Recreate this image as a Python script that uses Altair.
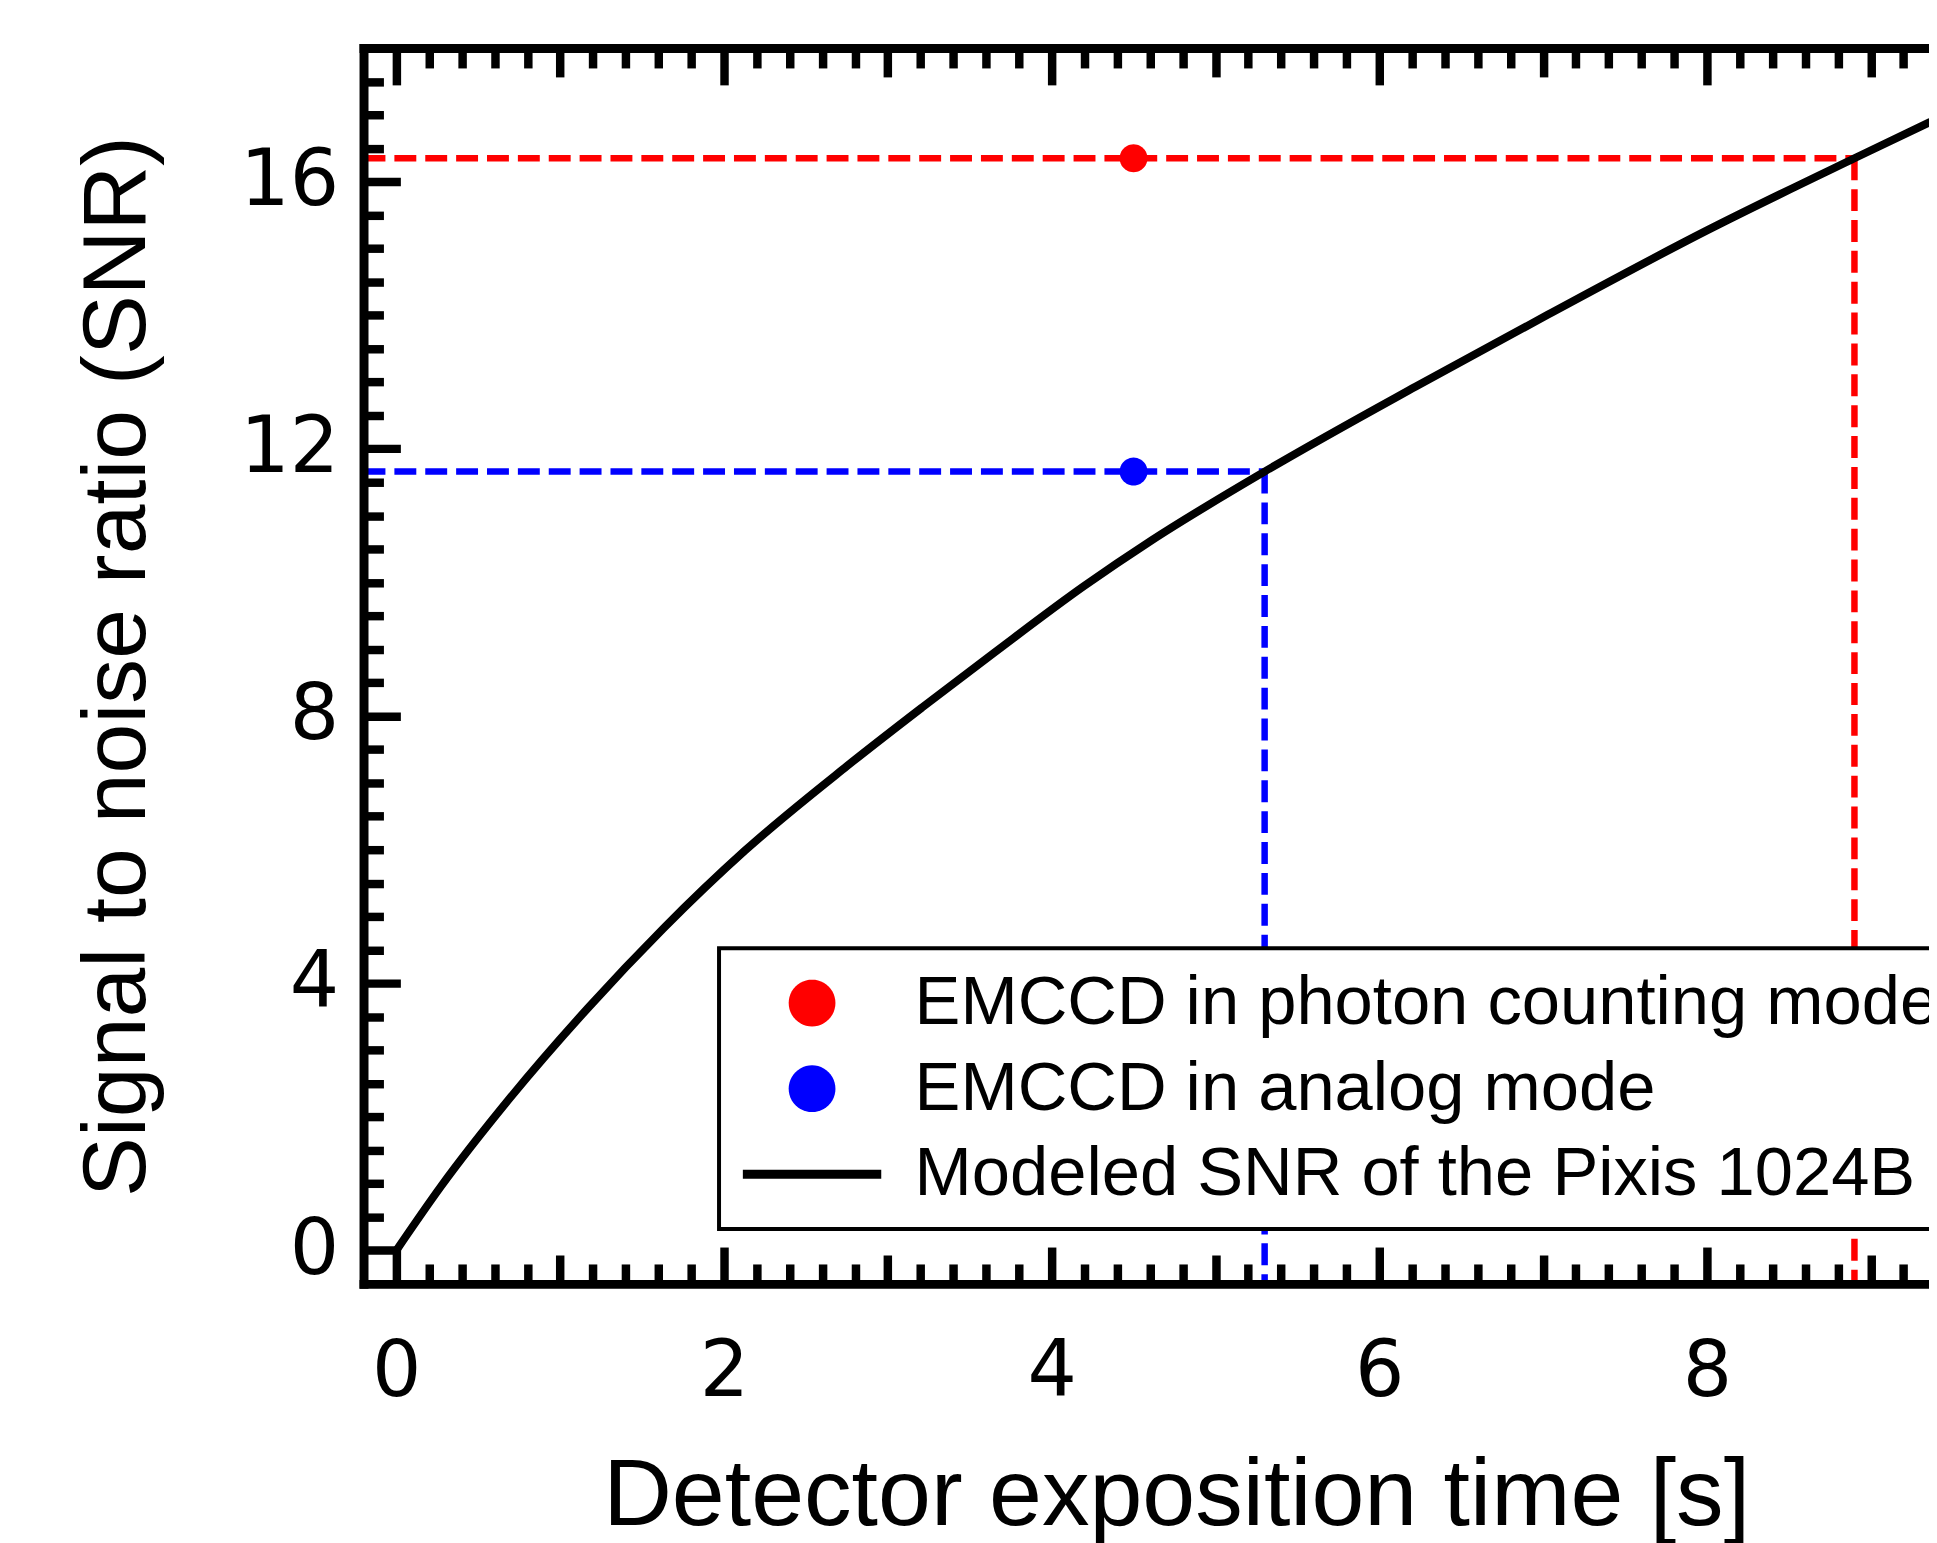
import math
import altair as alt
import pandas as pd

# ---------------- data ----------------
curve_x = [0.0, 0.27, 0.70, 1.17, 1.63, 2.13, 2.75, 3.21, 3.65, 4.20, 4.61, 5.30, 6.22, 7.03, 8.00, 8.90, 9.36, 9.50]
curve_y = [0.0, 0.95, 2.30, 3.63, 4.82, 5.99, 7.25, 8.13, 8.95, 9.95, 10.63, 11.66, 12.93, 14.01, 15.27, 16.35, 16.89, 17.05]

point_labels = ["EMCCD in photon counting mode", "EMCCD in analog mode"]
point_x = [4.5, 4.5]
point_y = [16.35, 11.66]
cross_x = [8.90, 5.30]          # where each dashed guide meets the model curve

legend_labels = ["EMCCD in photon counting mode", "EMCCD in analog mode",
                 "Modeled SNR of the Pixis 1024B"]
legend_colors = ["#ff0000", "#0000ff", "#000000"]

x_major = [0, 2, 4, 6, 8]
x_mid = [1, 3, 5, 7, 9]
x_minor = [round(0.2 * i, 1) for i in range(1, 47) if i % 5 != 0]
y_major = [0, 4, 8, 12, 16]
y_minor = [0.5 * i for i in range(1, 36) if i % 8 != 0]

X_MIN, X_MAX = -0.2, 9.355
Y_MIN, Y_MAX = -0.5, 18.0
W, H = 1572, 1241

# ---------------- symbol shapes (legend + points) ----------------
LEG_SIZE = 4872                  # legend symbol unit (sqrt = 69.8 px)
R = 0.673                        # circle radius in symbol units
circle_path = "M" + " L".join(
    f"{R*math.cos(2*math.pi*k/48):.4f},{R*math.sin(2*math.pi*k/48):.4f}" for k in range(48)) + " Z"
line_path = "M-1.991,-0.129 L1.991,-0.129 L1.991,0.129 L-1.991,0.129 Z"
legend_shapes = [circle_path, circle_path, line_path]

xs = alt.Scale(domain=[X_MIN, X_MAX], nice=False, zero=False)
ys = alt.Scale(domain=[Y_MIN, Y_MAX], nice=False, zero=False)


def tick_axis(orient, values, size, offset, domain=False):
    return alt.Axis(orient=orient, values=values, tickSize=size, offset=offset,
                    labels=False, ticks=True, tickColor="black", tickWidth=8.5,
                    tickCap="butt", domain=domain, domainWidth=9, domainColor="black",
                    domainCap="square", grid=False, title=None, zindex=1)


x_label_axis = alt.Axis(
    orient="bottom", values=x_major, ticks=False, domain=True, domainWidth=9,
    domainColor="black", domainCap="square", grid=False, format="d",
    labelFont="DejaVu Sans", labelFontSize=78, labelColor="black", labelPadding=50,
    labelFlush=False, labelOverlap=False,
    title="Detector exposition time [s]", titleFont="Liberation Sans", titleFontSize=95.5,
    titleFontWeight="normal", titleColor="black", titleX=816, titleY=242,
    titleAlign="center", titleBaseline="alphabetic", zindex=1)

y_label_axis = alt.Axis(
    orient="left", values=y_major, ticks=False, domain=True, domainWidth=9,
    domainColor="black", domainCap="square", grid=False, format="d",
    labelFont="DejaVu Sans", labelFontSize=78, labelColor="black", labelPadding=25,
    labelFlush=False, labelOverlap=False,
    title="Signal to noise ratio (SNR)", titleFont="Liberation Sans", titleFontSize=90,
    titleFontWeight="normal", titleColor="black", titleX=-220, titleY=620.5,
    titleAngle=270, titleAlign="center", titleBaseline="alphabetic", zindex=1)

legend = alt.Legend(
    title=None, orient="none", legendX=357, legendY=904, direction="vertical",
    fillColor="white", strokeColor="black", padding=20,
    symbolSize=LEG_SIZE, symbolStrokeWidth=0, symbolOpacity=1, symbolOffset=38.4,
    labelFont="Liberation Sans", labelFontSize=69, labelColor="black",
    labelLimit=3000, labelOffset=68, rowPadding=16)

color_enc = alt.Color("label:N", scale=alt.Scale(domain=legend_labels, range=legend_colors),
                      legend=legend)
shape_enc = alt.Shape("label:N", scale=alt.Scale(domain=legend_labels, range=legend_shapes),
                      legend=legend)

dash = [22, 9]

# ---------------- layers ----------------
red_h = alt.Chart(pd.DataFrame({"x": [X_MIN], "x2": [cross_x[0]], "y": [point_y[0]]})).mark_rule(
    color="#ff0000", strokeWidth=6.5, strokeDash=dash).encode(
    x=alt.X("x:Q", scale=xs, axis=tick_axis("top", x_major, 37, -H)),
    x2="x2:Q",
    y=alt.Y("y:Q", scale=ys, axis=tick_axis("right", y_major, 37, -W)))

blue_h = alt.Chart(pd.DataFrame({"x": [X_MIN], "x2": [cross_x[1]], "y": [point_y[1]]})).mark_rule(
    color="#0000ff", strokeWidth=6.5, strokeDash=dash).encode(
    x=alt.X("x:Q", scale=xs, axis=tick_axis("top", x_mid, 29, -H)),
    x2="x2:Q",
    y=alt.Y("y:Q", scale=ys, axis=tick_axis("right", y_minor, 20, -W)))

red_v = alt.Chart(pd.DataFrame({"x": [cross_x[0]], "y": [point_y[0]], "y2": [Y_MIN]})).mark_rule(
    color="#ff0000", strokeWidth=6.5, strokeDash=dash).encode(
    x=alt.X("x:Q", scale=xs, axis=tick_axis("top", x_minor, 20, -H)),
    y=alt.Y("y:Q", scale=ys, axis=None),
    y2="y2:Q")

blue_v = alt.Chart(pd.DataFrame({"x": [cross_x[1]], "y": [point_y[1]], "y2": [Y_MIN]})).mark_rule(
    color="#0000ff", strokeWidth=6.5, strokeDash=dash).encode(
    x=alt.X("x:Q", scale=xs, axis=tick_axis("bottom", x_major, 37, -H, domain=True)),
    y=alt.Y("y:Q", scale=ys, axis=None),
    y2="y2:Q")

curve = alt.Chart(pd.DataFrame({"t": curve_x, "snr": curve_y})).mark_line(
    color="black", strokeWidth=8, clip=True, interpolate="monotone").encode(
    x=alt.X("t:Q", scale=xs, axis=x_label_axis),
    y=alt.Y("snr:Q", scale=ys, axis=y_label_axis))

PT_SIZE = 1731                   # gives a 28 px dot with the circle path above
red_pt = alt.Chart(pd.DataFrame({"x": [point_x[0]], "y": [point_y[0]], "label": [point_labels[0]]})).mark_point(
    filled=True, size=PT_SIZE, opacity=1, strokeWidth=0).encode(
    x=alt.X("x:Q", scale=xs, axis=tick_axis("bottom", x_mid, 29, -H)),
    y=alt.Y("y:Q", scale=ys, axis=None),
    color=color_enc, shape=shape_enc)

blue_pt = alt.Chart(pd.DataFrame({"x": [point_x[1]], "y": [point_y[1]], "label": [point_labels[1]]})).mark_point(
    filled=True, size=PT_SIZE, opacity=1, strokeWidth=0).encode(
    x=alt.X("x:Q", scale=xs, axis=tick_axis("bottom", x_minor, 20, -H)),
    y=alt.Y("y:Q", scale=ys, axis=None),
    color=color_enc, shape=shape_enc)

chart = alt.layer(red_h, blue_h, red_v, blue_v, curve, red_pt, blue_pt).resolve_axis(
    x="independent", y="independent"
).properties(
    width=W, height=H,
    autosize=alt.AutoSizeParams(type="none"),
    padding={"left": 357, "top": 37, "right": 0, "bottom": 257},
    background="white",
).configure_view(strokeWidth=0).configure_legend(strokeWidth=4)

chart.save("out.html", embed_options={"renderer": "svg", "actions": False})
